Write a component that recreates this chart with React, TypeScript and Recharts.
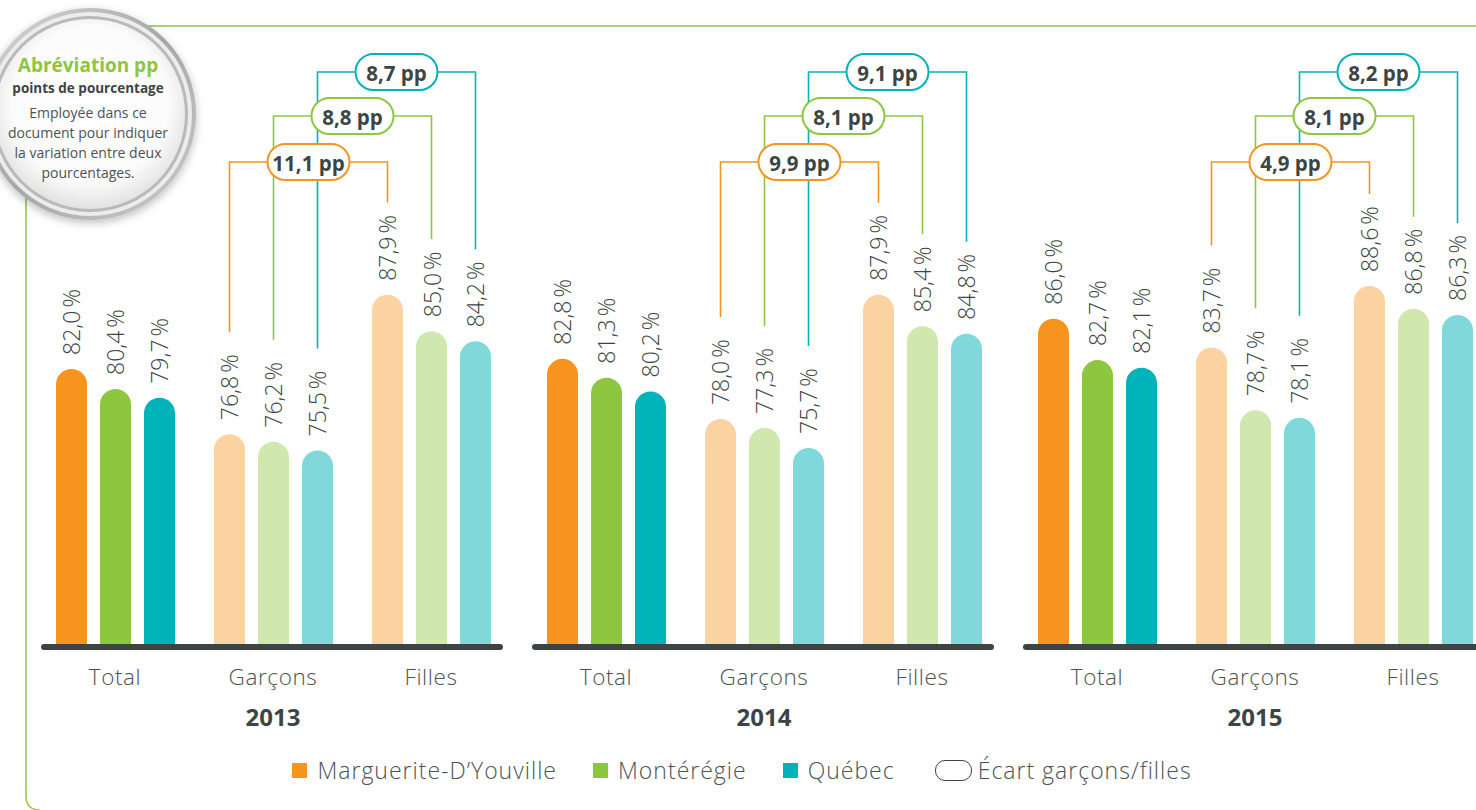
import { BarChart, Bar, XAxis, YAxis, Cell, LabelList, ReferenceLine } from 'recharts';

const categories = ['Total', 'Garçons', 'Filles'];
const years = ['2013', '2014', '2015'];
const seriesNames = ['Marguerite-D’Youville', 'Montérégie', 'Québec'];
const seriesKeys = ['marguerite', 'monteregie', 'quebec'];

// taux par année (2013, 2014, 2015) : [Total, Garçons, Filles]
const marguerite = [
  [82.0, 76.8, 87.9],
  [82.8, 78.0, 87.9],
  [86.0, 83.7, 88.6],
];
const monteregie = [
  [80.4, 76.2, 85.0],
  [81.3, 77.3, 85.4],
  [82.7, 78.7, 86.8],
];
const quebec = [
  [79.7, 75.5, 84.2],
  [80.2, 75.7, 84.8],
  [82.1, 78.1, 86.3],
];

// écart garçons/filles en pp, par année
const ecartMarguerite = [11.1, 9.9, 4.9];
const ecartMonteregie = [8.8, 8.1, 8.1];
const ecartQuebec = [8.7, 9.1, 8.2];

const colors = ['#F7941D', '#8DC63F', '#00B2B9'];
const lightColors = ['#FAD3A1', '#D0E7AE', '#80D8DB'];
const TEXT = '#3C4543';
const FONT = '"Open Sans", "Noto Sans", sans-serif';

const LEVELS = [162, 116, 72]; // hauteur des accolades
const LABEL_GAP = 14;
const LABEL_LEN = 64;

const fmt = (v: number) => v.toFixed(1).replace('.', ',');

type Rec = Record<string, { cx: number; top: number }>;

function makeLabel(s: number, yearIndex: number, rec: Rec, values: number[]) {
  return (props: any) => {
    const vb = props.viewBox && props.viewBox.width !== undefined ? props.viewBox : props;
    const idx = props.index !== undefined ? props.index : values.indexOf(props.value);
    const cx = vb.x + vb.width / 2;
    const top = vb.y;
    rec[`${s}-${idx}`] = { cx, top };
    const ty = top - LABEL_GAP;

    const label = (
      <text
        x={cx}
        y={ty}
        transform={`rotate(-90, ${cx}, ${ty})`}
        textAnchor="start"
        dominantBaseline="central"
        fontFamily={FONT}
        fontWeight={300}
        fontSize={23}
        fill={TEXT}
      >
        {fmt(Number(props.value)) + '\u202F%'}
      </text>
    );

    // la dernière étiquette dessine les accolades
    if (s !== 2 || idx !== 2) return label;

    const ecarts = [ecartMarguerite, ecartMonteregie, ecartQuebec];
    const brackets = [0, 1, 2].map((k) => {
      const g = rec[`${k}-1`];
      const f = rec[`${k}-2`];
      if (!g || !f) return null;
      return { k, g, f, level: LEVELS[k], mid: (g.cx + f.cx) / 2 };
    });

    return (
      <g>
        {label}
        {brackets.map((b) =>
          b ? (
            <path
              key={`l${b.k}`}
              d={`M${b.g.cx},${b.g.top - LABEL_GAP - LABEL_LEN - 24} V${b.level} H${b.f.cx} V${
                b.f.top - LABEL_GAP - LABEL_LEN - 14
              }`}
              fill="none"
              stroke={colors[b.k]}
              strokeWidth={1.6}
            />
          ) : null
        )}
        {brackets.map((b) =>
          b ? (
            <g key={`p${b.k}`}>
              <rect
                x={b.mid - 41}
                y={b.level - 18}
                width={82}
                height={36}
                rx={18}
                fill="#fff"
                stroke={colors[b.k]}
                strokeWidth={2}
              />
              <text
                x={b.mid}
                y={b.level + 1}
                textAnchor="middle"
                dominantBaseline="central"
                fontFamily={FONT}
                fontWeight={700}
                fontSize={20.5}
                fill={TEXT}
              >
                {fmt(ecarts[b.k][yearIndex]) + ' pp'}
              </text>
            </g>
          ) : null
        )}
      </g>
    );
  };
}

const CategoryTick = (props: any) => (
  <text
    x={props.x}
    y={685}
    textAnchor="middle"
    fontFamily={FONT}
    fontWeight={300}
    fontSize={22.5}
    letterSpacing={0.6}
    fill="#4B5351"
  >
    {props.payload.value}
  </text>
);

function Panel({ yearIndex, left }: { yearIndex: number; left: number }) {
  const series = [marguerite[yearIndex], monteregie[yearIndex], quebec[yearIndex]];
  const data = categories.map((name, i) => ({
    name,
    marguerite: series[0][i],
    monteregie: series[1][i],
    quebec: series[2][i],
  }));
  const rec: Rec = {};

  return (
    <div style={{ position: 'absolute', left, top: 0 }}>
      <BarChart
        width={520}
        height={810}
        data={data}
        margin={{ top: 143, right: 10, bottom: 65, left: 36 }}
        barSize={31}
        barGap={13}
        barCategoryGap={0}
      >
        <YAxis hide domain={[60, 100]} />
        <XAxis
          dataKey="name"
          height={100}
          axisLine={false}
          tickLine={false}
          tick={<CategoryTick />}
          label={{
            content: (p: any) => {
              const vb = p.viewBox;
              return (
                <text
                  x={vb.x + vb.width / 2}
                  y={726}
                  textAnchor="middle"
                  fontFamily={FONT}
                  fontWeight={700}
                  fontSize={24}
                  fill={TEXT}
                >
                  {years[yearIndex]}
                </text>
              );
            },
          }}
        />
        {seriesKeys.map((key, s) => (
          <Bar key={key} dataKey={key} name={seriesNames[s]} isAnimationActive={false} radius={[15.5, 15.5, 0, 0]}>
            {data.map((_, i) => (
              <Cell key={i} fill={i === 0 ? colors[s] : lightColors[s]} />
            ))}
            <LabelList dataKey={key} content={makeLabel(s, yearIndex, rec, series[s])} />
          </Bar>
        ))}
        <ReferenceLine
          y={60}
          shape={(p: any) => (
            <line
              x1={p.x1 + 8}
              x2={p.x2 - 10}
              y1={p.y1 + 2}
              y2={p.y2 + 2}
              stroke={TEXT}
              strokeWidth={6}
              strokeLinecap="round"
            />
          )}
        />
      </BarChart>
    </div>
  );
}

function Badge() {
  return (
    <svg width={230} height={240} style={{ position: 'absolute', left: 0, top: 0 }}>
      <defs>
        <radialGradient id="inner" cx="50%" cy="45%" r="55%">
          <stop offset="0%" stopColor="#ffffff" />
          <stop offset="75%" stopColor="#fbfbfb" />
          <stop offset="100%" stopColor="#e2e2e2" />
        </radialGradient>
        <linearGradient id="ring" x1="0" y1="0" x2="1" y2="1">
          <stop offset="0%" stopColor="#d9d9d9" />
          <stop offset="50%" stopColor="#a6a6a6" />
          <stop offset="100%" stopColor="#cdcdcd" />
        </linearGradient>
        <filter id="shadow" x="-20%" y="-20%" width="140%" height="140%">
          <feDropShadow dx="0" dy="3" stdDeviation="4" floodColor="#000" floodOpacity="0.25" />
        </filter>
      </defs>
      <circle cx={90} cy={114} r={106} fill="url(#ring)" filter="url(#shadow)" />
      <circle cx={90} cy={114} r={102} fill="#ececec" />
      <circle cx={90} cy={114} r={98} fill="#b9b9b9" />
      <circle cx={90} cy={114} r={95} fill="url(#inner)" />
      <text x={88} y={72} textAnchor="middle" fontFamily={FONT} fontWeight={700} fontSize={19} fill="#8DC63F">
        Abréviation pp
      </text>
      <text x={88} y={93} textAnchor="middle" fontFamily={FONT} fontWeight={700} fontSize={13.5} fill={TEXT}>
        points de pourcentage
      </text>
      {['Employée dans ce', 'document pour indiquer', 'la variation entre deux', 'pourcentages.'].map((t, i) => (
        <text
          key={t}
          x={88}
          y={118 + i * 20}
          textAnchor="middle"
          fontFamily={FONT}
          fontWeight={400}
          fontSize={14}
          fill="#4B5351"
        >
          {t}
        </text>
      ))}
    </svg>
  );
}

function LegendRow() {
  const item = (color: string, text: string) => (
    <div key={text} style={{ display: 'flex', alignItems: 'center', gap: 10 }}>
      <div style={{ width: 15, height: 15, background: color }} />
      <span>{text}</span>
    </div>
  );
  return (
    <div
      style={{
        position: 'absolute',
        left: 0,
        top: 754,
        width: 1476,
        display: 'flex',
        justifyContent: 'center',
        gap: 36,
        fontFamily: FONT,
        fontWeight: 300,
        fontSize: 23,
        letterSpacing: 1,
        color: '#4B5351',
        paddingLeft: 4,
      }}
    >
      {seriesNames.map((n, s) => item(colors[s], n))}
      <div style={{ display: 'flex', alignItems: 'center', gap: 6, marginLeft: 4 }}>
        <div style={{ width: 35, height: 19, border: `1.5px solid ${TEXT}`, borderRadius: 10 }} />
        <span>Écart garçons/filles</span>
      </div>
    </div>
  );
}

export default function App() {
  return (
    <div
      style={{
        position: 'absolute',
        left: 0,
        top: 0,
        width: 1476,
        height: 810,
        overflow: 'hidden',
        background: '#fff',
      }}
    >
      <svg width={1476} height={810} style={{ position: 'absolute', left: 0, top: 0 }}>
        <line x1={100} y1={26} x2={1476} y2={26} stroke="#8DC63F" strokeWidth={1.5} />
        <path d="M26,150 V796 Q26,810 40,810" fill="none" stroke="#8DC63F" strokeWidth={1.5} />
      </svg>
      {years.map((y, i) => (
        <Panel key={y} yearIndex={i} left={i * 491} />
      ))}
      <Badge />
      <LegendRow />
    </div>
  );
}
